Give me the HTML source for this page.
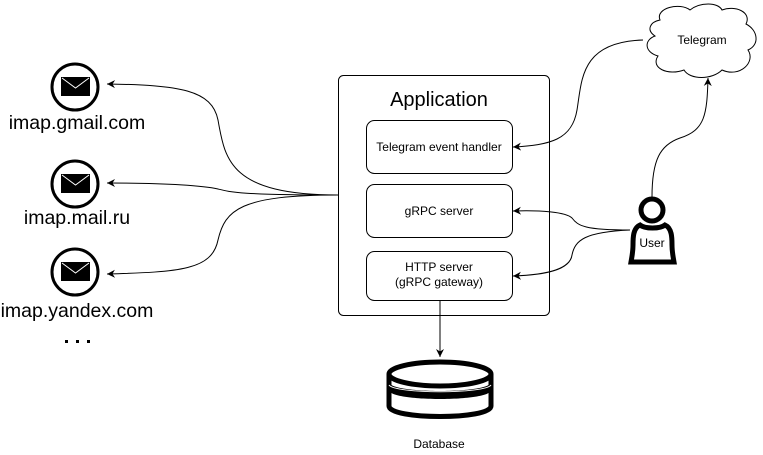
<!DOCTYPE html>
<html><head><style>
html,body{margin:0;padding:0;background:#fff;}
svg{display:block;font-family:"Liberation Sans",Arial,sans-serif;}
</style></head><body>
<svg width="763" height="455" viewBox="0 0 763 455" xmlns="http://www.w3.org/2000/svg">
<defs>
<marker id="a" markerWidth="10" markerHeight="10" refX="8" refY="5" orient="auto" markerUnits="userSpaceOnUse">
<path d="M0,1 L8,5 L0,9 L2.5,5 Z" fill="#000"/>
</marker>
</defs>
<rect x="338.5" y="75.5" width="211" height="240" rx="5" fill="#fff" stroke="#000"/>
<text x="439" y="106" font-size="20" text-anchor="middle">Application</text>
<rect x="366.5" y="120.5" width="146" height="53" rx="8" fill="#fff" stroke="#000"/>
<text x="439" y="151" font-size="12" text-anchor="middle">Telegram event handler</text>
<rect x="366.5" y="184.5" width="146" height="53" rx="8" fill="#fff" stroke="#000"/>
<text x="439" y="215" font-size="12" text-anchor="middle">gRPC server</text>
<rect x="366.5" y="251.5" width="146" height="49" rx="8" fill="#fff" stroke="#000"/>
<text x="439" y="271" font-size="12" text-anchor="middle">HTTP server</text>
<text x="439" y="286" font-size="12" text-anchor="middle">(gRPC gateway)</text>

<g fill="none" stroke="#000" stroke-width="3">
<circle cx="75" cy="87" r="23"/>
<circle cx="75" cy="184" r="23"/>
<circle cx="75" cy="272" r="23"/>
</g>
<g>
<rect x="61" y="77" width="29" height="19" fill="#000"/><path d="M62,78 L75.5,88 L89,78" stroke="#fff" fill="none"/>
<rect x="61" y="174" width="29" height="19" fill="#000"/><path d="M62,175 L75.5,185 L89,175" stroke="#fff" fill="none"/>
<rect x="61" y="262" width="29" height="19" fill="#000"/><path d="M62,263 L75.5,273 L89,263" stroke="#fff" fill="none"/>
</g>
<text x="77" y="129" font-size="19.5" text-anchor="middle">imap.gmail.com</text>
<text x="77" y="224" font-size="19.5" text-anchor="middle">imap.mail.ru</text>
<text x="77" y="317" font-size="19.5" text-anchor="middle">imap.yandex.com</text>
<g fill="#000"><rect x="65" y="340" width="3" height="3"/><rect x="76" y="340" width="3" height="3"/><rect x="87" y="340" width="3" height="3"/></g>

<g fill="none" stroke="#000" stroke-width="1" marker-end="url(#a)">
<path d="M338,195 C230,195 225,160 218,120 C212,90 180,85 107,84"/>
<path d="M338,195 C240,195 230,192 218,189 C205,186 170,183 107,183"/>
<path d="M338,195 C240,195 225,210 218,240 C212,270 180,272 107,274"/>
</g>

<path d="M660,20 C655,8 680,2 690,10 C700,2 718,2 722,10 C735,5 752,12 746,24 C758,30 760,45 748,50 C756,62 740,78 722,70 C712,80 690,80 684,70 C668,76 650,68 658,56 C644,52 644,40 655,36 C646,30 650,22 660,20 Z" fill="#fff" stroke="#000"/>
<text x="702" y="44" font-size="12" text-anchor="middle">Telegram</text>

<circle cx="652" cy="210" r="11" fill="#fff" stroke="#000" stroke-width="5"/>
<path d="M640,225 C633,228 633,238 633,245 C633,252 632,256 631,262 L674,262 C673,256 672,252 672,245 C672,238 672,228 665,225 C660,229 645,229 640,225 Z" fill="#fff" stroke="#000" stroke-width="5"/>
<text x="652" y="247" font-size="12" text-anchor="middle">User</text>

<g fill="none" stroke="#000" stroke-width="1" marker-end="url(#a)">
<path d="M643,40 C580,42 582,80 577,110 C572,140 550,145 513,147"/>
<path d="M652,197 C652,160 660,145 680,138 C705,130 707,115 708,78"/>
<path d="M630,230 C585,230 578,226 572,218 C566,212 540,210 513,211"/>
<path d="M630,230 C585,232 575,240 572,255 C570,270 545,275 513,276"/>
<path d="M440,301 L440,357"/>
</g>

<g fill="#fff" stroke="#000" stroke-width="5">
<path d="M389,374 L389,406 C389,420 491,420 491,406 L491,374"/>
<ellipse cx="440" cy="374" rx="51" ry="12"/>
</g>
<path d="M389,382 C389,394 491,394 491,382 L491,390 C491,402 389,402 389,390 Z" fill="#000"/>
<path d="M389,385 C395,394 485,394 491,385" stroke="#fff" fill="none" stroke-width="1"/>
<text x="439" y="448" font-size="12" text-anchor="middle">Database</text>
</svg>
</body></html>
